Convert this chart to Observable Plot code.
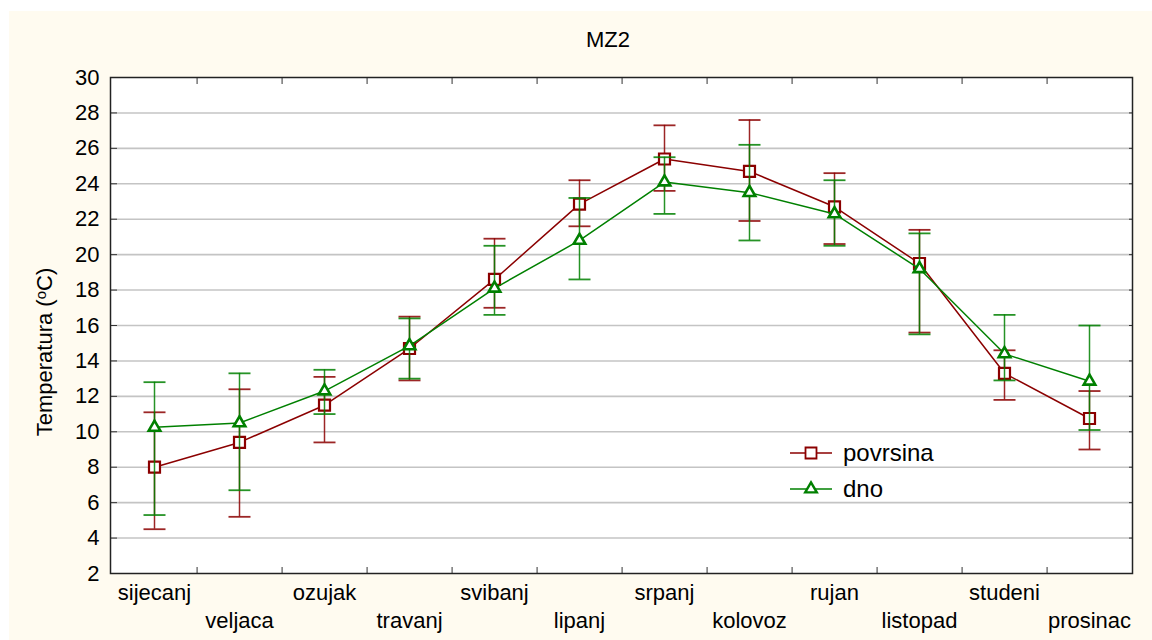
<!DOCTYPE html>
<html><head><meta charset="utf-8">
<script src="https://cdn.jsdelivr.net/npm/d3@7"></script>
<script src="https://cdn.jsdelivr.net/npm/@observablehq/plot@0.6"></script>
<style>
html,body{margin:0;padding:0;background:#fff;}
#wrap{position:relative;width:1152px;height:640px;overflow:hidden;font-family:"Liberation Sans",Arial,Helvetica,sans-serif;color:#000;}
#panel{position:absolute;left:9px;top:11px;right:0;bottom:0;background:#fffbf0;}
#chart{position:absolute;left:0;top:0;}
#title{position:absolute;left:0;width:1216px;top:28px;text-align:center;font-size:22px;line-height:24px;}
#ylabel{position:absolute;left:-105px;top:340px;width:300px;height:24px;line-height:24px;text-align:center;font-size:22px;transform:rotate(-90deg);}
#ylabel sup{font-size:15px;vertical-align:top;position:relative;top:-4px;}
#legend{position:absolute;left:785px;top:436px;}
</style>
</head><body>
<div id="wrap">
  <div id="panel"></div>
  <div id="chart"></div>
  <div id="title">MZ2</div>
  <div id="ylabel">Temperatura (<sup>o</sup>C)</div>
  <div id="legend"></div>
</div>
<script>
const months = ["sijecanj","veljaca","ozujak","travanj","svibanj","lipanj","srpanj","kolovoz","rujan","listopad","studeni","prosinac"];
const povrsinaMean = [8.0, 9.4, 11.5, 14.7, 18.6, 22.85, 25.4, 24.7, 22.7, 19.5, 13.3, 10.75];
const povrsinaLow  = [4.5, 5.2, 9.4, 12.9, 17.0, 21.6, 23.6, 21.9, 20.6, 15.6, 11.8, 9.0];
const povrsinaHigh = [11.1, 12.4, 13.1, 16.5, 20.9, 24.2, 27.3, 27.6, 24.6, 21.4, 14.6, 12.3];
const dnoMean = [10.25, 10.5, 12.3, 14.85, 18.1, 20.8, 24.1, 23.5, 22.3, 19.2, 14.4, 12.85];
const dnoLow  = [5.3, 6.7, 11.0, 13.0, 16.6, 18.6, 22.3, 20.8, 20.5, 15.5, 12.9, 10.1];
const dnoHigh = [12.8, 13.3, 13.5, 16.4, 20.5, 23.2, 25.5, 26.2, 24.2, 21.2, 16.6, 16.0];
const yTicks = [2,4,6,8,10,12,14,16,18,20,22,24,26,28,30];
const seriesNames = ["povrsina","dno"];

const RED = "#8b0000", GREEN = "#008000";
const W = 1152, H = 640, ML = 110, MR = 20, MT = 77, MB = 67;
const halfStep = (W - ML - MR) / months.length / 2;

const rows = months.map((m, i) => ({
  month: m,
  pM: povrsinaMean[i], pL: povrsinaLow[i], pH: povrsinaHigh[i],
  dM: dnoMean[i], dL: dnoLow[i], dH: dnoHigh[i]
}));

const cap = {draw(ctx) { ctx.moveTo(-11, 0); ctx.lineTo(11, 0); }};

function series(yM, yL, yH, color, symbol, r, sw) {
  return [
    Plot.ruleX(rows, {x: "month", y1: yL, y2: yH, stroke: color, strokeWidth: 1.5, strokeOpacity: 0.85}),
    Plot.dot(rows, {x: "month", y: yL, symbol: cap, stroke: color, fill: "none", strokeWidth: 1.8, strokeOpacity: 0.85}),
    Plot.dot(rows, {x: "month", y: yH, symbol: cap, stroke: color, fill: "none", strokeWidth: 1.8, strokeOpacity: 0.85}),
    Plot.line(rows, {x: "month", y: yM, stroke: color, strokeWidth: 1.5}),
    Plot.dot(rows, {x: "month", y: yM, symbol, r, stroke: color, fill: "white", strokeWidth: sw})
  ];
}

const chart = Plot.plot({
  width: W, height: H,
  marginLeft: ML, marginRight: MR, marginTop: MT, marginBottom: MB,
  style: {background: "transparent", fontSize: "21px", fontFamily: "'Liberation Sans', Arial, sans-serif", color: "#000"},
  x: {type: "point", domain: months, padding: 0.5, label: null},
  y: {domain: [2, 30], label: null},
  marks: [
    Plot.frame({fill: "white", stroke: null}),
    Plot.ruleY(yTicks.slice(1, -1), {stroke: "#c4c4c4", strokeWidth: 1.6}),
    Plot.axisY(yTicks, {anchor: "left", tickSize: 0, tickPadding: 11, fontSize: 22, label: null}),
    Plot.axisY(yTicks, {anchor: "left", tickSize: -7, text: null, label: null, stroke: "#333"}),
    Plot.axisY(yTicks, {anchor: "right", tickSize: -4, text: null, label: null, stroke: "#333"}),
    Plot.axisX(months.filter((d, i) => i % 2 === 0), {anchor: "bottom", tickSize: 0, tickPadding: 11, fontSize: 22, label: null}),
    Plot.axisX(months.filter((d, i) => i % 2 === 1), {anchor: "bottom", tickSize: 0, tickPadding: 39, fontSize: 22, label: null}),
    Plot.axisX(months.slice(0, -1), {anchor: "bottom", tickSize: -6, text: null, label: null, dx: halfStep, stroke: "#333"}),
    Plot.axisX(months.slice(0, -1), {anchor: "top", tickSize: -6, text: null, label: null, dx: halfStep, stroke: "#333"}),
    ...series("pM", "pL", "pH", RED, "square", 6.2, 2.2),
    ...series("dM", "dL", "dH", GREEN, "triangle", 4.3, 2.6),
    Plot.frame({stroke: "#222", strokeWidth: 1.5})
  ]
});
document.getElementById("chart").appendChild(chart);

// legend
const leg = d3.select("#legend").append("svg").attr("width", 180).attr("height", 80);
const legItems = [
  {name: seriesNames[0], color: RED, sym: d3.symbolSquare, size: 6.2 * 6.2 * Math.PI, sw: 1.8},
  {name: seriesNames[1], color: GREEN, sym: d3.symbolTriangle, size: 4.3 * 4.3 * Math.PI, sw: 2.4}
];
legItems.forEach((it, i) => {
  const g = leg.append("g").attr("transform", `translate(0,${17 + i * 36})`);
  g.append("line").attr("x1", 5).attr("x2", 47).attr("stroke", it.color).attr("stroke-width", 1.5);
  g.append("path").attr("transform", "translate(26,0)").attr("d", d3.symbol(it.sym, it.size)()).attr("fill", "white").attr("stroke", it.color).attr("stroke-width", it.sw);
  g.append("text").attr("x", 58).attr("dy", "0.35em").attr("font-size", 24).attr("font-family", "'Liberation Sans', Arial, sans-serif").text(it.name);
});
</script>
</body></html>
